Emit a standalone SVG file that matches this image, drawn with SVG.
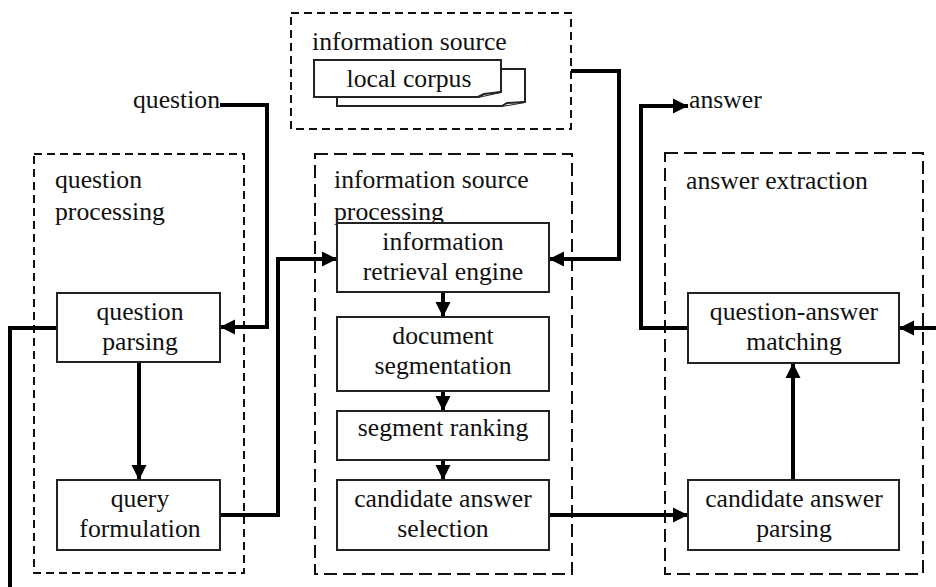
<svg xmlns="http://www.w3.org/2000/svg" width="936" height="587" viewBox="0 0 936 587">
<defs>
<marker id="ah" markerUnits="userSpaceOnUse" markerWidth="16" markerHeight="16" refX="15" refY="8" orient="auto"><path d="M0,0.500L15,8L0,15.500Z" fill="#000"/></marker>
</defs>
<style>
text{font-family:"Liberation Serif","Times New Roman",serif;font-size:25.700px;fill:#111;text-anchor:middle}
.l{text-anchor:start}
.g{fill:none;stroke:#111;stroke-width:2}
.n{fill:#fff;stroke:#222;stroke-width:2}
.d1{stroke-dasharray:8 5}
.d2{stroke-dasharray:13 6}
.c{fill:none;stroke:#000;stroke-width:4}
</style>
<rect width="936" height="587" fill="#fff"/>
<g id="group-source"><rect class="g d1" x="291" y="13" width="280" height="116"/><text class="l" x="312" y="49.500">information source</text></g>
<g id="group-question"><rect class="g d1" x="34" y="154" width="210" height="419"/><text class="l" x="55" y="188">question</text><text class="l" x="55" y="220">processing</text></g>
<g id="group-processing"><rect class="g d2" x="315" y="154" width="257" height="420"/><text class="l" x="334" y="188">information source</text><text class="l" x="334" y="220">processing</text></g>
<g id="group-extraction"><rect class="g d2" x="665" y="153" width="258" height="421"/><text class="l" x="686" y="189">answer extraction</text></g>
<g id="connectors">
<path class="c" d="M220,105H267V327H220" marker-end="url(#ah)"/>
<path class="c" d="M57,328H10V587"/>
<path class="c" d="M139,362V480" marker-end="url(#ah)"/>
<path class="c" d="M220,515H278V259H337" marker-end="url(#ah)"/>
<path class="c" d="M571,71H619V259H549" marker-end="url(#ah)"/>
<path class="c" d="M443,292V317" marker-end="url(#ah)"/>
<path class="c" d="M443,391V411" marker-end="url(#ah)"/>
<path class="c" d="M443,460V480" marker-end="url(#ah)"/>
<path class="c" d="M549,515H688" marker-end="url(#ah)"/>
<path class="c" d="M793,480V363" marker-end="url(#ah)"/>
<path class="c" d="M688,328H641V106H688" marker-end="url(#ah)"/>
<path class="c" d="M936,328H899" marker-end="url(#ah)"/>
</g>
<g id="node-local-corpus">
<path class="n" d="M337,69H525V102L502,106H337Z"/>
<path class="n" d="M502,106L507,103L525,102"/>
<path class="n" d="M314,60H501V92L478,97H314Z"/>
<path class="n" d="M478,97L484,94L501,92"/>
<text x="409" y="87">local corpus</text>
</g>
<g id="node-question-parsing"><rect class="n" x="57" y="293" width="163" height="69"/><text x="140" y="320">question</text><text x="140" y="350">parsing</text></g>
<g id="node-query-formulation"><rect class="n" x="57" y="480" width="163" height="70"/><text x="140" y="507">query</text><text x="140" y="537">formulation</text></g>
<g id="node-ir-engine"><rect class="n" x="337" y="223" width="212" height="69"/><text x="443" y="250">information</text><text x="443" y="280">retrieval engine</text></g>
<g id="node-doc-seg"><rect class="n" x="337" y="317" width="212" height="74"/><text x="443" y="344">document</text><text x="443" y="374">segmentation</text></g>
<g id="node-seg-rank"><rect class="n" x="337" y="411" width="212" height="49"/><text x="443" y="436">segment ranking</text></g>
<g id="node-cand-sel"><rect class="n" x="337" y="480" width="212" height="70"/><text x="443" y="507">candidate answer</text><text x="443" y="537">selection</text></g>
<g id="node-qa-match"><rect class="n" x="688" y="293" width="211" height="70"/><text x="794" y="320">question-answer</text><text x="794" y="350">matching</text></g>
<g id="node-cand-parse"><rect class="n" x="688" y="480" width="211" height="70"/><text x="794" y="507">candidate answer</text><text x="794" y="537">parsing</text></g>
<text class="l" x="133" y="108">question</text>
<text class="l" x="689" y="108">answer</text>
</svg>
